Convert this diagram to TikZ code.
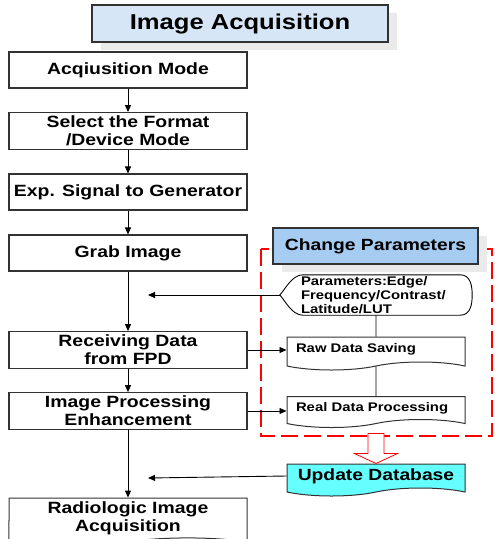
\documentclass[tikz,border=0pt]{standalone}
\usepackage{fontspec}
\setmainfont{Liberation Sans}[FakeStretch=1.19]
\usetikzlibrary{shapes.symbols,shadows,arrows.meta,calc}

\definecolor{titleblue}{RGB}{214,230,246}
\definecolor{parablue}{RGB}{166,204,242}
\definecolor{dbcyan}{RGB}{102,255,255}
\definecolor{shadowgray}{RGB}{234,234,234}
\definecolor{edgegray}{RGB}{50,50,50}

\tikzstyle{box} = [rectangle, minimum width=238pt, minimum height=36pt, text centered, align=center, draw=edgegray, line width=1.1pt, font=\fontsize{16.3}{18}\selectfont\bfseries]
\tikzstyle{head} = [rectangle, draw=edgegray, line width=1.1pt, drop shadow={shadow xshift=9pt, shadow yshift=-8pt, fill=shadowgray, opacity=1}]
\tikzstyle{doc} = [tape, tape bend top=none, tape bend bottom=in and out, tape bend height=8pt, draw=edgegray, line width=1pt, minimum width=178pt, align=center, font=\fontsize{12.5}{14}\selectfont\bfseries]
\tikzstyle{arrow} = [line width=0.9pt, -{Triangle[length=7pt,width=6pt]}]
\tikzstyle{link} = [line width=0.9pt]

\begin{document}
\begin{tikzpicture}[x=1pt, y=-1pt, node distance=61pt]
  \useasboundingbox (0,0) rectangle (497,539);

  \node (title) [head, fill=titleblue, minimum width=296pt, minimum height=37pt, font=\fontsize{21.5}{24}\selectfont\bfseries] at (240,23.5) {Image Acquisition};

  % main column
  \node (acqmode) [box] at (128,70) {Acqiusition Mode};
  \node (format) [box, below of=acqmode] {Select the Format\\/Device Mode};
  \node (expsignal) [box, below of=format] {Exp. Signal to Generator};
  \node (grab) [box, below of=expsignal] {Grab Image};
  \node (receive) [box, below of=grab, yshift=-36pt] {Receiving Data\\from FPD};
  \node (improc) [box, below of=receive] {Image Processing\\Enhancement};
  \node (radio) [doc, minimum width=238pt, minimum height=46pt, font=\fontsize{16.3}{18}\selectfont\bfseries, below of=improc, yshift=-46pt] {Radiologic Image\\Acquisition};

  \draw [arrow] (acqmode) -- (format);
  \draw [arrow] (format) -- (expsignal);
  \draw [arrow] (expsignal) -- (grab);
  \draw [arrow] (grab) -- (receive);
  \draw [arrow] (receive) -- (improc);
  \draw [arrow] (improc) -- (radio);

  % parameter group
  \draw [red, line width=1.8pt, dash pattern=on 17pt off 6pt] (261,249) rectangle (492,436);
  \node (change) [head, fill=parablue, minimum width=205pt, minimum height=36pt, font=\fontsize{16.2}{18}\selectfont\bfseries] at (375.5,246) {Change Parameters};

  \node (params) [rectangle, minimum width=192pt, minimum height=40pt, text width=150pt, inner xsep=21pt, inner ysep=0pt, align=left, font=\fontsize{12.5}{14}\selectfont\bfseries] at (376,295) {Parameters:Edge/\\Frequency/Contrast/\\Latitude/LUT};
  \draw [link] ($(params.north west)+(23,0)$) -- ($(params.north east)+(-12,0)$)
    .. controls ($(params.north east)+(-2,0)$) and ($(params.east)+(0,-10)$) .. (params.east)
    .. controls ($(params.east)+(0,10)$) and ($(params.south east)+(-2,0)$) .. ($(params.south east)+(-12,0)$)
    -- ($(params.south west)+(23,0)$)
    .. controls ($(params.south west)+(12,0)$) and ($(params.west)+(5,5)$) .. (params.west)
    .. controls ($(params.west)+(5,-5)$) and ($(params.north west)+(12,0)$) .. cycle;

  \node (raw) [doc, minimum height=33pt, text width=160pt, align=left] at (376,349.5) {Raw Data Saving};
  \node (real) [doc, minimum height=31pt, text width=160pt, align=left] at (376,408) {Real Data Processing};
  \node (updb) [doc, fill=dbcyan, minimum height=32pt, font=\fontsize{16.2}{18}\selectfont\bfseries] at (376,476) {Update Database};

  \draw [link] (params) -- (raw);
  \draw [link] (raw) -- (real);
  \draw [red, line width=0.8pt, fill=white] ($(updb.north)+(-8,-30)$) -- ++(0,20) -- ++(-13.5,0) -- (updb.north) -- ++(21.5,-10) -- ++(-13.5,0) -- ++(0,-20) -- cycle;

  % side inputs
  \coordinate (pin) at (148,295);
  \coordinate (dbin) at (148,478);
  \draw [arrow] (params.west) -- (pin);
  \draw [arrow] (updb.west) -- (dbin);
  \draw [arrow] (receive.east) -- (receive.east -| raw.west);
  \draw [arrow] (improc.east) -- (improc.east -| real.west);
\end{tikzpicture}
\end{document}
